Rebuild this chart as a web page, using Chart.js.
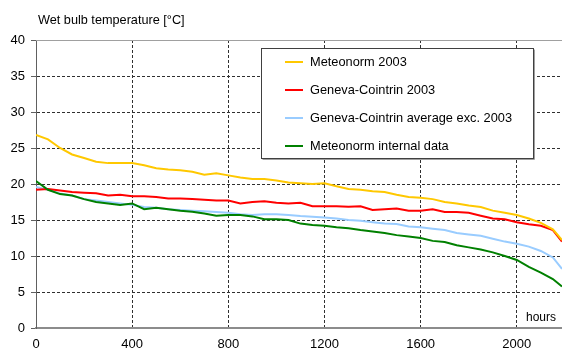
<!DOCTYPE html>
<html>
<head>
<meta charset="utf-8">
<script src="https://cdn.jsdelivr.net/npm/chart.js@4/dist/chart.umd.min.js"></script>
<style>
  html, body { margin: 0; padding: 0; background: #fff; }
  #wetBulb { display: block; }
</style>
</head>
<body>
<canvas id="wetBulb" width="562" height="352"></canvas>
<script>
// hours of the summer period, sorted curves
const hours = [0, 50, 100, 150, 200, 250, 300, 350, 400, 450, 500, 550, 600, 650, 700, 750,
    800, 850, 900, 950, 1000, 1050, 1100, 1150, 1200, 1250, 1300, 1350, 1400, 1450, 1500,
    1550, 1600, 1650, 1700, 1750, 1800, 1850, 1900, 1950, 2000, 2050, 2100, 2150, 2188];

const meteonorm2003 = [26.8, 26.2, 25.0, 24.1, 23.6, 23.1, 22.9, 22.9, 22.9, 22.6, 22.2, 22.0,
    21.9, 21.7, 21.3, 21.5, 21.2, 20.9, 20.7, 20.7, 20.5, 20.2, 20.1, 20.0, 20.1, 19.7, 19.3,
    19.2, 19.0, 18.9, 18.5, 18.2, 18.1, 17.9, 17.5, 17.3, 17.0, 16.8, 16.3, 16.0, 15.7, 15.2,
    14.6, 13.7, 12.2];

const geneva2003 = [19.2, 19.3, 19.1, 18.9, 18.8, 18.7, 18.4, 18.5, 18.3, 18.3, 18.2, 18.0,
    18.0, 17.9, 17.8, 17.7, 17.7, 17.3, 17.5, 17.6, 17.4, 17.3, 17.4, 16.9, 16.9, 16.9, 16.85,
    16.9, 16.4, 16.5, 16.6, 16.3, 16.3, 16.5, 16.1, 16.1, 16.0, 15.6, 15.2, 15.1, 14.7, 14.4,
    14.2, 13.6, 12.0];

const genevaAverage = [19.6, 19.2, 18.7, 18.4, 17.9, 17.7, 17.5, 17.3, 17.1, 16.8, 16.7, 16.5,
    16.4, 16.3, 16.2, 16.1, 16.0, 15.8, 15.7, 15.8, 15.8, 15.7, 15.55, 15.45, 15.35, 15.2, 15.0,
    14.9, 14.7, 14.5, 14.45, 14.1, 14.0, 13.8, 13.6, 13.2, 13.0, 12.8, 12.4, 12.0, 11.7, 11.3,
    10.7, 9.8, 8.2];

const meteonormInternal = [20.4, 19.2, 18.6, 18.4, 17.9, 17.5, 17.3, 17.1, 17.3, 16.5, 16.7, 16.5,
    16.3, 16.15, 15.9, 15.6, 15.7, 15.7, 15.5, 15.1, 15.1, 15.0, 14.5, 14.3, 14.2, 14.0, 13.85,
    13.6, 13.4, 13.2, 12.9, 12.7, 12.5, 12.1, 11.95, 11.5, 11.2, 10.9, 10.5, 10.0, 9.45, 8.5,
    7.7, 6.8, 5.75];

const seriesLabels = ['Meteonorm 2003', 'Geneva-Cointrin 2003', 'Geneva-Cointrin average exc. 2003', 'Meteonorm internal data'];
const seriesColors = ['#FFC800', '#FF0000', '#99CCFF', '#008000'];
const seriesValues = [meteonorm2003, geneva2003, genevaAverage, meteonormInternal];

const FONT = '"Liberation Sans", Arial, sans-serif';

const toPoints = (vals) => hours.map((h, i) => ({ x: h, y: vals[i] }));

// frame, axis captions and the boxed legend
const decorations = {
    id: 'decorations',
    beforeDatasetsDraw(chart) {
        const { ctx, chartArea } = chart;
        ctx.save();
        ctx.strokeStyle = '#a0a0a0';
        ctx.lineWidth = 1;
        ctx.beginPath();
        ctx.moveTo(chartArea.left, chartArea.top + 0.5);
        ctx.lineTo(chartArea.right, chartArea.top + 0.5);
        ctx.stroke();
        ctx.restore();
    },
    afterDraw(chart) {
        const { ctx, chartArea } = chart;
        ctx.save();
        ctx.fillStyle = '#000';
        ctx.font = '12.7px ' + FONT;
        ctx.textBaseline = 'middle';
        ctx.textAlign = 'left';
        ctx.fillText('Wet bulb temperature [°C]', 38, 20);
        ctx.font = '12px ' + FONT;
        ctx.textAlign = 'right';
        ctx.fillText('hours', chartArea.right - 6, chartArea.bottom - 10);

        // legend box
        const bx = 261.5, by = 48.5, bw = 272, bh = 110;
        ctx.fillStyle = '#fff';
        ctx.fillRect(bx, by, bw, bh);
        ctx.strokeStyle = '#a0a0a0';
        ctx.beginPath();
        ctx.moveTo(bx + bw + 1, by + 1);
        ctx.lineTo(bx + bw + 1, by + bh + 1);
        ctx.lineTo(bx + 1, by + bh + 1);
        ctx.stroke();
        ctx.strokeStyle = '#404040';
        ctx.lineWidth = 1;
        ctx.strokeRect(bx, by, bw, bh);

        ctx.font = '12.8px ' + FONT;
        ctx.textAlign = 'left';
        chart.data.datasets.forEach((ds, i) => {
            const y = 62 + i * 28;
            ctx.strokeStyle = ds.borderColor;
            ctx.lineWidth = 2;
            ctx.beginPath();
            ctx.moveTo(285, y);
            ctx.lineTo(303, y);
            ctx.stroke();
            ctx.fillStyle = '#000';
            ctx.fillText(ds.label, 310, y + 0.5);
        });
        ctx.restore();
    }
};

new Chart(document.getElementById('wetBulb'), {
    type: 'line',
    data: {
        datasets: seriesValues.map((vals, i) => ({
            label: seriesLabels[i],
            data: toPoints(vals),
            borderColor: seriesColors[i],
            backgroundColor: seriesColors[i],
            borderWidth: 2,
            pointRadius: 0,
            tension: 0,
            fill: false,
            order: i === 3 ? 0 : i + 1
        }))
    },
    options: {
        responsive: false,
        animation: false,
        layout: { padding: { top: 40, right: 0, left: 0, bottom: 0 } },
        plugins: {
            legend: { display: false },
            tooltip: { enabled: false }
        },
        scales: {
            x: {
                type: 'linear',
                min: 0,
                max: 2188,
                afterFit: (scale) => { scale.height = 24; },
                ticks: {
                    stepSize: 400,
                    includeBounds: false,
                    maxRotation: 0,
                    padding: 9,
                    color: '#000',
                    font: { family: FONT, size: 13 },
                    callback: (v) => String(v)
                },
                grid: {
                    drawTicks: false,
                    lineWidth: 1,
                    color: (c) => (c.tick && c.tick.value === 0 ? 'rgba(0,0,0,0)' : '#303030')
                },
                border: { color: '#8c8c8c', width: 2, dash: [3, 2] }
            },
            y: {
                min: 0,
                max: 40,
                afterFit: (scale) => { scale.width = 36; },
                ticks: {
                    stepSize: 5,
                    padding: 6,
                    color: '#000',
                    font: { family: FONT, size: 13 }
                },
                grid: {
                    tickLength: 5,
                    tickColor: '#606060',
                    lineWidth: 1,
                    color: (c) => (c.tick && (c.tick.value === 0 || c.tick.value === 40) ? 'rgba(0,0,0,0)' : '#303030')
                },
                border: { color: '#606060', width: 1, dash: [3, 2] }
            }
        }
    },
    plugins: [decorations]
});
</script>
</body>
</html>
